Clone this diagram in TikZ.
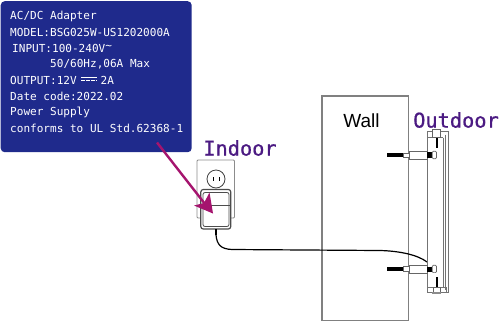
\documentclass[tikz,border=0pt]{standalone}
\usepackage{fontspec}
\setmainfont{Liberation Sans}
\newfontfamily\platefont{DejaVu Sans Mono}
\newfontfamily\placefont[FakeBold=0.8]{DejaVu Sans Mono}
\usetikzlibrary{arrows.meta}
\definecolor{plate}{HTML}{1F2A8C}
\definecolor{labelpurple}{HTML}{4B1A82}
\definecolor{pointer}{HTML}{A5146E}
\definecolor{edge}{HTML}{808080}
\tikzset{
  x=1pt,y=-1pt,
  platetext/.style={anchor=west,inner sep=0pt,text=white,font=\platefont\fontsize{11.05}{12}\selectfont},
  place/.style={anchor=center,inner sep=0pt,text=labelpurple,font=\placefont\fontsize{20.3}{22}\selectfont},
  outline/.style={draw=edge,line width=1.2pt},
  thinedge/.style={draw=black!55,line width=0.7pt},
  cable/.style={draw=black,line width=1.2pt},
  boltbody/.style={draw=black!60,fill=white,line width=0.7pt},
}
\begin{document}
\begin{tikzpicture}
\useasboundingbox (0,0) rectangle (500,322);
% label plate
\node[fill=plate,rounded corners=4pt,minimum width=191pt,minimum height=151pt,inner sep=0pt,anchor=north west] (platebox) at (0.5,1) {};
\node[platetext] (l1) at (10,16) {AC/DC Adapter};
\node[platetext] (l2) at (10,32) {MODEL:BSG025W-US1202000A};
\node[platetext] (l3) at (12,48) {INPUT:100-240V\raisebox{3pt}{\~{}}};
\node[platetext] (l4) at (50,64) {50/60Hz,06A Max};
\node[platetext] (l5) at (10,80) {OUTPUT:12V};
\node[platetext] (l5b) at (100.5,80) {2A};
\draw[white,line width=0.8pt] (81,77) -- (97,77);
\draw[white,line width=0.8pt,dash pattern=on 3.5pt off 1.5pt] (81,80.5) -- (97,80.5);
\node[platetext] (l6) at (10,96) {Date code:2022.02};
\node[platetext] (l7) at (10,112) {Power Supply};
\node[platetext] (l8) at (10,128) {conforms to UL Std.62368-1};
% wall
\draw[outline] (322,96) rectangle (408.3,320.7);
\node[anchor=center,inner sep=0pt,font=\fontsize{19}{20}\selectfont] (walllabel) at (361.5,121) {Wall};
% wall socket and adapter
\draw[thinedge,draw=black!45,line width=0.9pt,rounded corners=1pt,fill=white] (197,160) rectangle (234.5,218);
\node[circle,draw=black!75,line width=0.8pt,minimum size=18pt,inner sep=0pt] (socket) at (216,179) {};
\draw[black,line width=1pt] (213.2,177) -- (213.2,181);
\draw[black,line width=1pt] (219,177) -- (219,181);
\draw[draw=black!70,line width=1.2pt,fill=white,rounded corners=2.5pt] (200.8,189.5) rectangle (230.8,229);
\draw[draw=black!70,line width=0.8pt,rounded corners=2pt] (203,192.5) rectangle (229,226.5);
\draw[black!70,line width=0.9pt] (201,205) -- (231,205);
% cable from adapter to the lower bolt
\coordinate (plugout) at (216,229);
\coordinate (boltin) at (427,262);
\draw[black,line width=1.6pt] (plugout) -- (216,235);
\draw[cable] (216,235) .. controls (217,245) and (221,249) .. (232,249.5) -- (380,250.5) .. controls (400,251) and (418,255) .. (boltin);
% purple pointer
\coordinate (tail) at (157,142.5);
\coordinate (tip) at (213,213.5);
\draw[pointer,line width=2.4pt] (tail) -- (205,204);
\fill[pointer] (tip) -- (194,205.5) -- (204,203) -- (209.5,192.5) -- cycle;
% outdoor unit frame
\draw[thinedge] (427,137.7) -- (427,287);
\draw[thinedge] (443,137.7) -- (443,287);
\draw[thinedge] (445.6,134.5) -- (445.6,289.5);
\draw[thinedge] (440,131.7) -- (448.7,131.7) -- (448.7,292) -- (440,292);
\draw[thinedge] (427,137.7) -- (443,137.7);
% upper mounting bolt
\fill[black] (387,153.3) rectangle (403,156.8);
\draw[boltbody] (403,153) rectangle (409.5,157.2);
\draw[boltbody] (409.5,151.3) rectangle (427,159);
\fill[black] (427,152) rectangle (432,158);
\draw[boltbody,rounded corners=1pt] (432.3,151.3) rectangle (436.4,158.7);
\fill[black] (435.7,138) rectangle (437.8,148);
\draw[thinedge] (427,131.7) rectangle (433,137.7);
\draw[boltbody] (432.7,129.8) rectangle (440.7,137.7);
% lower mounting bolt
\fill[black] (387,267) rectangle (403,270.6);
\draw[boltbody] (403,266.6) rectangle (409.5,271);
\draw[boltbody] (409.5,265) rectangle (427,273);
\fill[black] (427,266.5) rectangle (432,272);
\draw[boltbody,rounded corners=1pt] (432.3,265.3) rectangle (436.4,272.6);
\fill[black] (435.7,277) rectangle (437.8,287);
\draw[thinedge] (427,287) rectangle (446,292);
\draw[boltbody] (433,287) rectangle (440.7,292);
\fill[black!45] (432.3,292) rectangle (441.3,294);
% place names
\node[place] (indoor) at (240,148) {Indoor};
\node[place] (outdoor) at (456,120) {Outdoor};
\end{tikzpicture}
\end{document}
